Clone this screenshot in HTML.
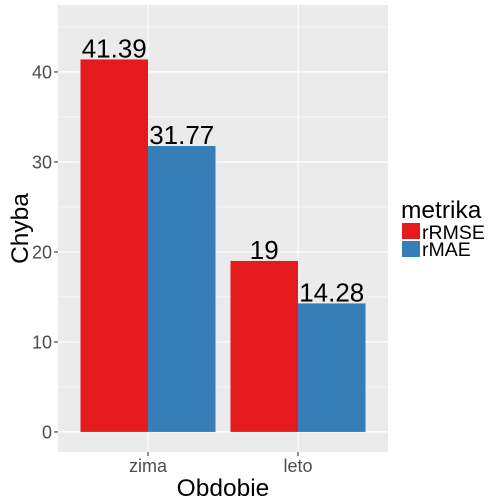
<!DOCTYPE html>
<html><head><meta charset="utf-8"><style>body{margin:0;background:#fff}svg{display:block;font-family:"Liberation Sans",Arial,sans-serif}</style></head>
<body>
<svg id="c" width="504" height="504"></svg>
<script>
const categories = ["zima","leto"];
const seriesNames = ["rRMSE","rMAE"];
const rRMSE = [41.39, 19];
const rMAE = [31.77, 14.28];
const labelsRMSE = ["41.39","19"];
const labelsMAE = ["31.77","14.28"];
const yTicks = [0,10,20,30,40];
const colors = ["#E41A1C","#377EB8"];

const NS="http://www.w3.org/2000/svg";
const svg=document.getElementById('c');
const P={l:58,r:388,t:5,b:452};
const yMin=-2.23, yMax=47.44;
const y=v=>P.b-(v-yMin)/(yMax-yMin)*(P.b-P.t);
const unit=(P.r-P.l)/(categories.length+0.2);
const x=i=>P.l+unit*(i+0.6);
function el(t,a,txt){const e=document.createElementNS(NS,t);for(const k in a)e.setAttribute(k,a[k]);if(txt!==undefined)e.textContent=txt;svg.appendChild(e);return e;}
let e=el('rect',{x:P.l,y:P.t,width:P.r-P.l,height:P.b-P.t,fill:'#EBEBEB'});


for(let i=0;i<yTicks.length;i++){
  const m=yTicks[i]+5;
  if(y(m)>P.t){e=el('line',{x1:P.l,x2:P.r,y1:y(m),y2:y(m),stroke:'#fff','stroke-width':0.6});
  
  }
}
yTicks.forEach(t=>{
  e=el('line',{x1:P.l,x2:P.r,y1:y(t),y2:y(t),stroke:'#fff','stroke-width':1.2});
  
  
  e=el('line',{x1:P.l-4,x2:P.l,y1:y(t),y2:y(t),stroke:'#333','stroke-width':1.1});
  
  
  e=el('text',{x:P.l-6,y:y(t)+6.5,'text-anchor':'end','font-size':18,fill:'#4D4D4D'},t);
  
  
});
categories.forEach((c,i)=>{
  e=el('line',{x1:x(i),x2:x(i),y1:P.t,y2:P.b,stroke:'#fff','stroke-width':1.2});
  
  
  e=el('line',{x1:x(i),x2:x(i),y1:P.b,y2:P.b+4,stroke:'#333','stroke-width':1.1});
  
  
  e=el('text',{x:x(i),y:P.b+20,'text-anchor':'middle','font-size':18,fill:'#4D4D4D'},c);
  
  
});
const bw=unit*0.45;
[rRMSE,rMAE].forEach((vals,s)=>{
  const labs=s===0?labelsRMSE:labelsMAE;
  vals.forEach((v,i)=>{
    const bx=x(i)-bw+s*bw;
    e=el('rect',{x:bx,y:y(v),width:bw,height:y(0)-y(v),fill:colors[s]});
    
    
    e=el('text',{x:bx+bw/2,y:y(v)-2,'text-anchor':'middle','font-size':26,fill:'#000'},labs[i]);
    
    
  });
});
e=el('text',{x:(P.l+P.r)/2,y:496,'text-anchor':'middle','font-size':24.5,fill:'#000'},'Obdobie');


e=el('text',{x:0,y:0,'text-anchor':'middle','font-size':24.5,fill:'#000',transform:`translate(28,${(P.t+P.b)/2}) rotate(-90)`},'Chyba');


e=el('text',{x:401,y:218,'font-size':24.5,fill:'#000'},'metrika');


seriesNames.forEach((n,s)=>{
  e=el('rect',{x:402,y:223+s*18,width:18,height:16,fill:colors[s]});
  
  
  e=el('text',{x:422,y:239+s*17,'font-size':19.5,fill:'#000'},n);
  
  
});
</script>
</body></html>
